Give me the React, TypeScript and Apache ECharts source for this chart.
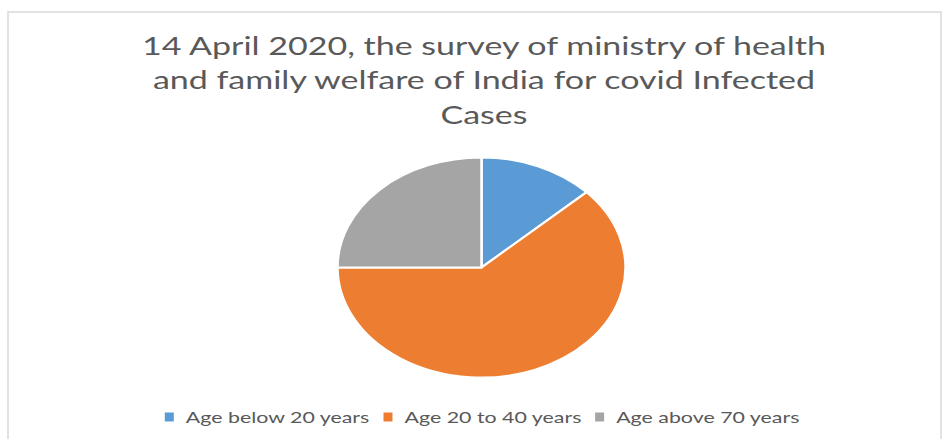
import React, { useEffect, useRef } from "react";
import * as echarts from "echarts";

const titleLines = [
  "14 April 2020, the survey of ministry of health",
  "and family welfare of India for covid Infected",
  "Cases",
];
const categories = ["Age below 20 years", "Age 20 to 40 years", "Age above 70 years"];
const values = [13, 62, 25];
const colors = ["#5B9BD5", "#ED7D31", "#A5A5A5"];

export default function App() {
  const ref = useRef<HTMLDivElement>(null);
  useEffect(() => {
    if (!ref.current) return;
    const chart = echarts.init(ref.current, null, { renderer: "svg" });
    const total = values.reduce((a, b) => a + b, 0);
    const cx = 481.5;
    const cy = 267.5;
    const rx = 144;
    const ry = 110;

    const series = categories.map((name, i) => {
      const before = values.slice(0, i).reduce((a, b) => a + b, 0);
      return {
        type: "custom",
        name,
        coordinateSystem: "none",
        itemStyle: { color: colors[i] },
        data: [[values[i]]],
        renderItem: (params: any, api: any) => {
          const v = api.value(0);
          const start = -Math.PI / 2 + (before / total) * Math.PI * 2;
          const end = start + (v / total) * Math.PI * 2;
          return {
            type: "sector",
            x: cx,
            y: cy,
            scaleY: ry / rx,
            shape: { cx: 0, cy: 0, r: rx, r0: 0, startAngle: start, endAngle: end, clockwise: true },
            style: { fill: colors[i], stroke: "#ffffff", lineWidth: 2.5 },
          };
        },
      };
    });

    const titleGraphics = titleLines.map((line, i) => ({
      type: "text",
      x: 484,
      y: 45 + i * 34.5,
      scaleX: 1.36,
      silent: true,
      style: {
        text: line,
        fill: "#595959",
        font: "25px Lato",
        textAlign: "center",
        textVerticalAlign: "middle",
      },
    }));

    // legend drawn as horizontally stretched text, like the reference
    const legendFont = "15.5px Lato";
    const legendScale = 1.38;
    const sq = 9;
    const iconGap = 12;
    const itemGap = 13;
    const canvas = document.createElement("canvas");
    const ctx = canvas.getContext("2d")!;
    ctx.font = legendFont;
    const widths = categories.map((c) => ctx.measureText(c).width * legendScale);
    const totalW =
      widths.reduce((a, b) => a + b, 0) + categories.length * (sq + iconGap) + (categories.length - 1) * itemGap;
    let lx = 482.5 - totalW / 2;
    const ly = 417;
    const legendGraphics: any[] = [];
    categories.forEach((c, i) => {
      legendGraphics.push({
        type: "rect",
        silent: true,
        shape: { x: lx, y: ly - sq / 2, width: sq, height: sq },
        style: { fill: colors[i] },
      });
      lx += sq + iconGap;
      legendGraphics.push({
        type: "text",
        silent: true,
        x: lx,
        y: ly,
        scaleX: legendScale,
        style: {
          text: c,
          fill: "#595959",
          font: legendFont,
          textAlign: "left",
          textVerticalAlign: "middle",
        },
      });
      lx += widths[i] + itemGap;
    });

    chart.setOption({
      animation: false,
      backgroundColor: "#ffffff",
      graphic: [
        {
          type: "rect",
          shape: { x: 8, y: 12, width: 933, height: 440 },
          style: { fill: "none", stroke: "#d9d9d9", lineWidth: 1.5 },
          silent: true,
          z: -1,
        },
        ...titleGraphics,
        ...legendGraphics,
      ],
      series,
    });
    return () => chart.dispose();
  }, []);
  return (
    <div
      ref={ref}
      style={{ position: "fixed", left: 0, top: 0, width: 942, height: 439 }}
    />
  );
}
